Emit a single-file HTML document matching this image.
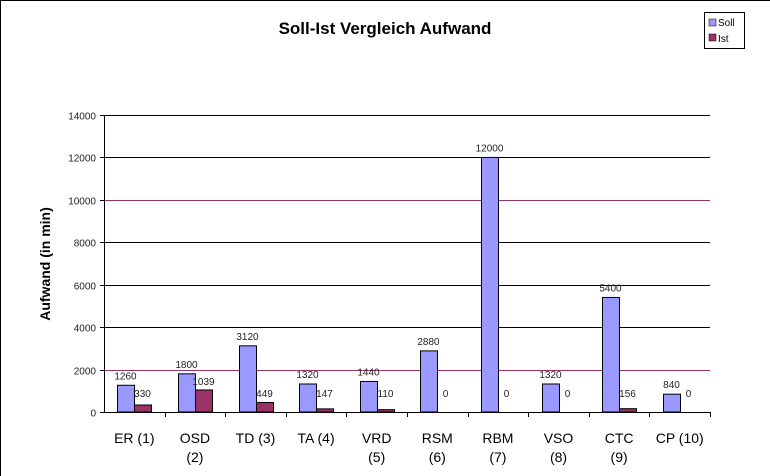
<!DOCTYPE html>
<html><head><meta charset="utf-8"><style>
body{margin:0;background:#fff;}
svg{display:block;font-family:"Liberation Sans",sans-serif;}
</style></head><body>
<svg width="770" height="476">
<line x1="0.5" y1="0" x2="0.5" y2="476" stroke="#000"/>
<line x1="0" y1="0.5" x2="770" y2="0.5" stroke="#000"/>
<text x="385" y="34" text-anchor="middle" font-size="17" font-weight="bold">Soll-Ist Vergleich Aufwand</text>
<text transform="translate(50,264) rotate(-90)" text-anchor="middle" font-size="14" font-weight="bold">Aufwand (in min)</text>
<g id="grid"></g><g id="bars"></g><g id="labels"></g>
<g>
<rect x="704.5" y="12.5" width="40" height="36" fill="#fff" stroke="#000"/>
<rect x="709" y="19" width="7" height="7" fill="#9999ff" stroke="#000" stroke-width="0.5"/>
<text x="718" y="26" font-size="10">Soll</text>
<rect x="709" y="34" width="7" height="7" fill="#993366" stroke="#000" stroke-width="0.5"/>
<text x="718" y="42" font-size="10">Ist</text>
</g>
</svg>
<script>
const categories=[["ER (1)"],["OSD","(2)"],["TD (3)"],["TA (4)"],["VRD","(5)"],["RSM","(6)"],["RBM","(7)"],["VSO","(8)"],["CTC","(9)"],["CP (10)"]];
const soll=[1260,1800,3120,1320,1440,2880,12000,1320,5400,840];
const ist=[330,1039,449,147,110,0,0,0,156,0];
const ticks=[0,2000,4000,6000,8000,10000,12000,14000];
const X0=104,X1=710,Y0=412,Y1=115,MAX=14000;
const cw=(X1-X0)/categories.length;
const y=v=>Y0-(v/MAX)*(Y0-Y1);
const NS="http://www.w3.org/2000/svg";
function mk(p,t,a){const e=document.createElementNS(NS,t);for(const k in a)e.setAttribute(k,a[k]);document.getElementById(p).appendChild(e);return e;}
ticks.forEach(t=>{
 const yy=Math.round(y(t))+0.5;
 if(t>0){const l=mk('grid','line',{x1:X0,x2:X1,y1:yy,y2:yy,stroke:(t==2000||t==10000)?'#993366':'#000'});
 
 }
 const tk=mk('grid','line',{x1:X0-4,x2:X0,y1:yy,y2:yy,stroke:'#000'});
 
 
 const tx=mk('grid','text',{x:X0-8,y:yy+4,'text-anchor':'end','font-size':'10',fill:'#222'});tx.textContent=t;
 
 
});
const ax=mk('grid','line',{x1:X0+0.5,x2:X0+0.5,y1:Y1,y2:Y0,stroke:'#000'});


const xa=mk('grid','line',{x1:X0,x2:X1,y1:Y0+0.5,y2:Y0+0.5,stroke:'#000'});


const bw=17;
categories.forEach((c,i)=>{
 const xl=X0+i*cw, cx=xl+cw/2;
 const tk=mk('grid','line',{x1:Math.round(xl+cw)+0.5,x2:Math.round(xl+cw)+0.5,y1:Y0,y2:Y0+5,stroke:'#000'});
 
 
 c.forEach((s,j)=>{const t=mk('labels','text',{x:cx,y:443+j*19,'text-anchor':'middle','font-size':'14'});t.textContent=s;
 
 });
 const sx=Math.round(cx-bw), ix=Math.round(cx);
 const b1=mk('bars','rect',{x:sx+0.5,y:y(soll[i]),width:bw,height:Y0-y(soll[i]),fill:'#9999ff',stroke:'#000','stroke-width':'1'});
 
 
 const b2=mk('bars','rect',{x:ix+0.5,y:y(ist[i]),width:bw,height:Y0-y(ist[i]),fill:'#993366',stroke:'#000','stroke-width':'1'});
 
 
 const l1=mk('labels','text',{x:sx+bw/2,y:y(soll[i])-6,'text-anchor':'middle','font-size':'10',fill:'#222'});l1.textContent=soll[i];
 
 
 const l2=mk('labels','text',{x:ix+bw/2,y:Math.min(y(ist[i]),Y0-10)-5,'text-anchor':'middle','font-size':'10',fill:'#222'});l2.textContent=ist[i];
 
 
});
</script>
</body></html>
